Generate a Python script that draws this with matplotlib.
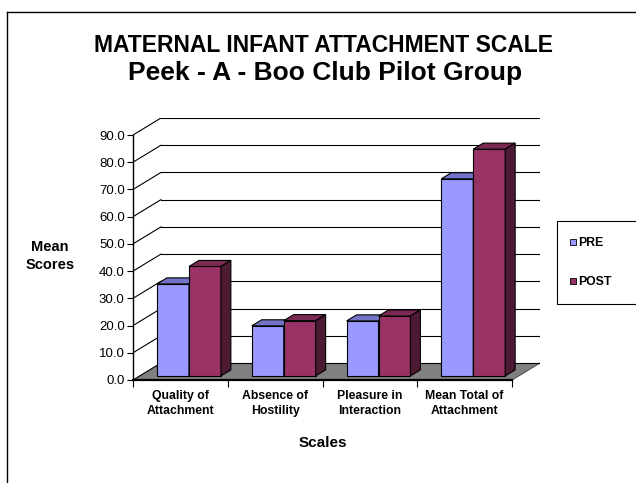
import numpy as np
import matplotlib.pyplot as plt
from matplotlib.patches import Polygon, Rectangle
from matplotlib.lines import Line2D

plt.rcParams['font.family'] = ['Liberation Sans', 'DejaVu Sans']

categories = ["Quality of\nAttachment", "Absence of\nHostility",
              "Pleasure in\nInteraction", "Mean Total of\nAttachment"]
series = ["PRE", "POST"]
pre = [33.8, 18.4, 20.2, 72.4]
post = [40.2, 20.3, 22.0, 83.3]
yticks = np.arange(0, 91, 10)

face = {"PRE": "#9999ff", "POST": "#993366"}
top = {"PRE": "#7373c8", "POST": "#7a2952"}
side = {"PRE": "#5c5ca0", "POST": "#4d1a33"}

W, H = 636, 483
fig = plt.figure(figsize=(W / 100, H / 100), dpi=100)

# oblique depth of the box (data units)
dx, dy = 0.295, 6.25
ymax = 90
n = len(categories)

ax = fig.add_axes([133 / W, 1 - 380 / H, 407 / W, 262 / H])
ax.set_xlim(0, n + dx)
ax.set_ylim(0, ymax + dy)
for s in ax.spines.values():
    s.set_visible(False)
ax.patch.set_alpha(0)

# floor
ax.add_patch(Polygon([(0, 0), (n, 0), (n + dx, dy), (dx, dy)],
                     closed=True, fc="#808080", ec="none", zorder=1))
ax.plot([n, n + dx], [0, dy], color="#555555", lw=0.8, zorder=1)

# gridlines on back and side wall
for v in yticks:
    ax.plot([dx, n + dx], [v + dy, v + dy], color="black", lw=0.8, zorder=2)
    ax.plot([0, dx], [v, v + dy], color="black", lw=0.8, zorder=2)

# bars
f = 0.24
bw = 0.337
bdx = 0.105
bdy = bdx * dy / dx
y0 = f * dy
for i in range(n):
    c = i + 0.5 + f * dx + 0.02
    for j, (name, vals) in enumerate(zip(series, [pre, post])):
        val = vals[i]
        x0 = c - bw + j * bw
        ax.add_patch(Rectangle((x0, y0), bw, val, fc=face[name], ec="black",
                               lw=0.8, zorder=3 + j))
        ax.add_patch(Polygon([(x0, y0 + val), (x0 + bw, y0 + val),
                              (x0 + bw + bdx, y0 + val + bdy), (x0 + bdx, y0 + val + bdy)],
                             closed=True, fc=top[name], ec="black", lw=0.8, zorder=3 + j))
        ax.add_patch(Polygon([(x0 + bw, y0), (x0 + bw + bdx, y0 + bdy),
                              (x0 + bw + bdx, y0 + val + bdy), (x0 + bw, y0 + val)],
                             closed=True, fc=side[name], ec="black", lw=0.8, zorder=3 + j))

# axes lines
ax.plot([0, 0], [0, ymax], color="black", lw=1, zorder=6, clip_on=False)
ax.plot([0, n], [0, 0], color="black", lw=1.6, zorder=6, clip_on=False)

ax.set_yticks(yticks)
ax.set_yticklabels([f"{v:.1f}" for v in yticks])
ax.tick_params(axis="y", length=4, width=0.8, pad=2, labelsize=9.5)
ax.set_xticks(range(n + 1))
ax.set_xticklabels([])
ax.set_xticks(np.arange(n) + 0.5, minor=True)
ax.set_xticklabels(categories, minor=True, fontsize=8.8, fontweight="bold",
                   linespacing=1.25)
ax.tick_params(axis="x", which="major", length=5, width=0.8)
ax.tick_params(axis="x", which="minor", length=0, pad=7.5)

# texts
fig.text(323 / W, 1 - 52 / H, "MATERNAL INFANT ATTACHMENT SCALE", ha="center", va="baseline",
         fontsize=16.5, fontweight="bold")
fig.text(325 / W, 1 - 80 / H, "Peek - A - Boo Club Pilot Group", ha="center", va="baseline",
         fontsize=19, fontweight="bold")
fig.text(50 / W, 1 - 251 / H, "Mean", ha="center", va="baseline",
         fontsize=10.5, fontweight="bold")
fig.text(50 / W, 1 - 269 / H, "Scores", ha="center", va="baseline",
         fontsize=10.5, fontweight="bold")
fig.text(323 / W, 1 - 447 / H, "Scales", ha="center", va="baseline",
         fontsize=11, fontweight="bold")

# legend
fig.add_artist(Rectangle((557 / W, 1 - 304 / H), 90 / W, 83 / H, transform=fig.transFigure,
                         fc="white", ec="black", lw=0.8))
for name, yy in zip(series, [242, 281]):
    fig.add_artist(Rectangle((570 / W, 1 - (yy + 3) / H), 6 / W, 6 / H,
                             transform=fig.transFigure, fc=face[name], ec="black", lw=0.6))
    fig.text(578 / W, 1 - (yy + 4) / H, name, ha="left", va="baseline",
             fontsize=8.8, fontweight="bold")

# outer chart border
fig.add_artist(Line2D([7 / W, 7 / W], [0, 1 - 12 / H], color="black", lw=1))
fig.add_artist(Line2D([7 / W, 1], [1 - 12 / H, 1 - 12 / H], color="black", lw=1))

fig.savefig("out.png", dpi=100)
